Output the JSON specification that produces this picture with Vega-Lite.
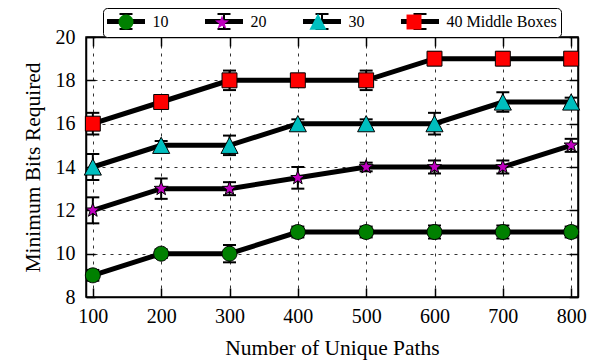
{
  "$schema": "https://vega.github.io/schema/vega-lite/v6.json",
  "width": 492,
  "height": 260,
  "autosize": "none",
  "padding": {"left": 86, "top": 37, "right": 17, "bottom": 65},
  "background": "white",
  "config": {
    "font": "Liberation Serif",
    "view": {"stroke": "black", "strokeWidth": 1.5},
    "axis": {
      "labelFont": "Liberation Serif",
      "labelFontSize": 20,
      "labelColor": "black",
      "labelFlush": false,
      "titleFont": "Liberation Serif",
      "titleFontSize": 21.5,
      "titleFontWeight": "normal",
      "titleColor": "black",
      "domainColor": "black",
      "domainWidth": 1.5,
      "tickColor": "black",
      "tickWidth": 1.5,
      "gridColor": "black",
      "gridDash": [3, 5],
      "gridWidth": 1,
      "gridOpacity": 0.8
    },
    "legend": {"labelFont": "Liberation Serif"}
  },
  "data": {
    "values": [
      {"paths": 100, "boxes": "10", "bits": 9, "lo": 8.75, "hi": 9.25},
      {"paths": 200, "boxes": "10", "bits": 10, "lo": 9.8, "hi": 10.2},
      {"paths": 300, "boxes": "10", "bits": 10, "lo": 9.6, "hi": 10.4},
      {"paths": 400, "boxes": "10", "bits": 11, "lo": 10.75, "hi": 11.25},
      {"paths": 500, "boxes": "10", "bits": 11, "lo": 10.75, "hi": 11.25},
      {"paths": 600, "boxes": "10", "bits": 11, "lo": 10.7, "hi": 11.3},
      {"paths": 700, "boxes": "10", "bits": 11, "lo": 10.7, "hi": 11.3},
      {"paths": 800, "boxes": "10", "bits": 11, "lo": 10.75, "hi": 11.25},
      {"paths": 100, "boxes": "20", "bits": 12, "lo": 11.4, "hi": 12.6},
      {"paths": 200, "boxes": "20", "bits": 13, "lo": 12.53, "hi": 13.47},
      {"paths": 300, "boxes": "20", "bits": 13, "lo": 12.7, "hi": 13.3},
      {"paths": 400, "boxes": "20", "bits": 13.5, "lo": 13.0, "hi": 14.0},
      {"paths": 500, "boxes": "20", "bits": 14, "lo": 13.8, "hi": 14.2},
      {"paths": 600, "boxes": "20", "bits": 14, "lo": 13.7, "hi": 14.3},
      {"paths": 700, "boxes": "20", "bits": 14, "lo": 13.7, "hi": 14.3},
      {"paths": 800, "boxes": "20", "bits": 15, "lo": 14.7, "hi": 15.3},
      {"paths": 100, "boxes": "30", "bits": 14, "lo": 13.4, "hi": 14.6},
      {"paths": 200, "boxes": "30", "bits": 15, "lo": 14.8, "hi": 15.2},
      {"paths": 300, "boxes": "30", "bits": 15, "lo": 14.55, "hi": 15.45},
      {"paths": 400, "boxes": "30", "bits": 16, "lo": 15.8, "hi": 16.2},
      {"paths": 500, "boxes": "30", "bits": 16, "lo": 15.8, "hi": 16.2},
      {"paths": 600, "boxes": "30", "bits": 16, "lo": 15.5, "hi": 16.5},
      {"paths": 700, "boxes": "30", "bits": 17, "lo": 16.55, "hi": 17.45},
      {"paths": 800, "boxes": "30", "bits": 17, "lo": 16.8, "hi": 17.2},
      {"paths": 100, "boxes": "40 Middle Boxes", "bits": 16, "lo": 15.5, "hi": 16.5},
      {"paths": 200, "boxes": "40 Middle Boxes", "bits": 17, "lo": 16.7, "hi": 17.3},
      {"paths": 300, "boxes": "40 Middle Boxes", "bits": 18, "lo": 17.55, "hi": 18.45},
      {"paths": 400, "boxes": "40 Middle Boxes", "bits": 18, "lo": 17.7, "hi": 18.3},
      {"paths": 500, "boxes": "40 Middle Boxes", "bits": 18, "lo": 17.55, "hi": 18.45},
      {"paths": 600, "boxes": "40 Middle Boxes", "bits": 19, "lo": 18.7, "hi": 19.3},
      {"paths": 700, "boxes": "40 Middle Boxes", "bits": 19, "lo": 18.7, "hi": 19.3},
      {"paths": 800, "boxes": "40 Middle Boxes", "bits": 19, "lo": 18.75, "hi": 19.25}
    ]
  },
  "layer": [
    {
      "mark": {"type": "line", "strokeWidth": 5, "color": "black"},
      "encoding": {
        "x": {
          "field": "paths", "type": "quantitative",
          "scale": {"domain": [90, 810], "nice": false, "zero": false},
          "axis": {"orient": "bottom", "title": "Number of Unique Paths", "values": [100, 200, 300, 400, 500, 600, 700, 800], "grid": true, "tickSize": -9, "labelPadding": 18, "titlePadding": 11}
        },
        "y": {
          "field": "bits", "type": "quantitative",
          "scale": {"domain": [8, 20], "nice": false, "zero": false},
          "axis": {"orient": "left", "title": "Minimum Bits Required", "values": [8, 10, 12, 14, 16, 18, 20], "grid": true, "tickSize": -9, "labelPadding": 20, "titlePadding": 11}
        },
        "detail": {"field": "boxes", "type": "nominal"}
      }
    },
    {
      "mark": {"type": "rule", "strokeWidth": 2},
      "encoding": {
        "x": {"field": "paths", "type": "quantitative", "axis": null},
        "y": {"field": "lo", "type": "quantitative", "axis": null},
        "y2": {"field": "hi"},
        "color": {
          "field": "boxes", "type": "nominal",
          "scale": {"domain": ["10", "20", "30", "40 Middle Boxes"], "range": ["black", "black", "black", "black"]},
          "legend": {
            "title": null, "orient": "none", "legendX": 17, "legendY": -29,
            "direction": "horizontal", "columns": 4, "columnPadding": 32, "padding": 4,
            "strokeColor": "black", "fillColor": "white", "cornerRadius": 4,
            "symbolType": "M -2.118 -0.176 L 2.118 -0.176 L 2.118 0.176 L -2.118 0.176 Z M 0 -0.882 L 0 0.882 M -0.765 -0.882 L 0.765 -0.882 M -0.765 0.882 L 0.765 0.882",
            "symbolSize": 289, "symbolStrokeWidth": 2, "symbolFillColor": "black", "symbolStrokeColor": "black",
            "symbolOffset": 9.5, "labelOffset": 17,
            "labelFont": "Liberation Serif", "labelFontSize": 16, "labelColor": "black",
            "zindex": 0,
            "encode": {"symbols": {"update": {"strokeWidth": {"value": 2}, "fill": {"value": "black"}, "stroke": {"value": "black"}, "opacity": {"value": 1}}}}
          }
        }
      }
    },
    {
      "mark": {"type": "tick", "orient": "horizontal", "color": "black", "size": 13, "thickness": 2, "opacity": 1},
      "encoding": {
        "x": {"field": "paths", "type": "quantitative", "axis": null},
        "y": {"field": "lo", "type": "quantitative", "axis": null}
      }
    },
    {
      "mark": {"type": "tick", "orient": "horizontal", "color": "black", "size": 13, "thickness": 2, "opacity": 1},
      "encoding": {
        "x": {"field": "paths", "type": "quantitative", "axis": null},
        "y": {"field": "hi", "type": "quantitative", "axis": null}
      }
    },
    {
      "mark": {"type": "point", "filled": true, "size": 324, "stroke": "black", "strokeWidth": 1, "opacity": 1},
      "encoding": {
        "x": {"field": "paths", "type": "quantitative", "axis": {"orient": "top", "labels": false, "title": null, "grid": false, "tickSize": -9, "values": [100, 200, 300, 400, 500, 600, 700, 800]}},
        "y": {"field": "bits", "type": "quantitative", "axis": {"orient": "right", "labels": false, "title": null, "grid": false, "tickSize": -9, "values": [8, 10, 12, 14, 16, 18, 20]}},
        "fill": {
          "field": "boxes", "type": "nominal",
          "scale": {"range": ["#008000", "#bf00bf", "#00bfbf", "#ff0000"]},
          "legend": {
            "title": null, "orient": "none", "legendX": 17, "legendY": -29,
            "direction": "horizontal", "columns": 4, "columnPadding": 48, "padding": 4,
            "symbolSize": 324, "symbolStrokeWidth": 1, "symbolStrokeColor": "black", "symbolOpacity": 1,
            "symbolOffset": 9.5, "labelOffset": 17,
            "labelFont": "Liberation Serif", "labelFontSize": 16, "labelExpr": "''",
            "zindex": 1
          }
        },
        "shape": {
          "field": "boxes", "type": "nominal",
          "scale": {"range": [
            "M -2.056 0 M 2.056 0 M -0.83 0 A 0.83 0.83 0 1 0 0.83 0 A 0.83 0.83 0 1 0 -0.83 0 Z",
            "M -2.056 0 M 2.056 0 M 0 -0.82 L 0.194 -0.267 L 0.78 -0.253 L 0.314 0.101 L 0.482 0.663 L 0 0.33 L -0.482 0.663 L -0.314 0.101 L -0.78 -0.253 L -0.194 -0.267 Z",
            "M -2.056 0 M 2.056 0 M 0 -0.9 L 0.95 0.9 L -0.95 0.9 Z",
            "M -2.056 0 M 2.056 0 M -0.83 -0.83 L 0.83 -0.83 L 0.83 0.83 L -0.83 0.83 Z"
          ]},
          "legend": {
            "title": null, "orient": "none", "legendX": 17, "legendY": -29,
            "direction": "horizontal", "columns": 4, "columnPadding": 48, "padding": 4,
            "symbolSize": 324, "symbolStrokeWidth": 1, "symbolStrokeColor": "black", "symbolOpacity": 1,
            "symbolOffset": 9.5, "labelOffset": 17,
            "labelFont": "Liberation Serif", "labelFontSize": 16, "labelExpr": "''",
            "zindex": 1
          }
        }
      }
    }
  ]
}
